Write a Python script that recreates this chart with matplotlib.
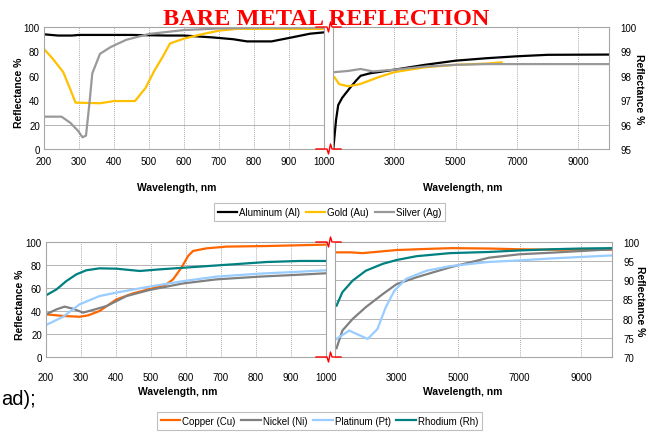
import matplotlib
matplotlib.use("Agg")
import matplotlib.pyplot as plt
from matplotlib.lines import Line2D

plt.rcParams['font.family'] = ['Liberation Sans', 'DejaVu Sans']

# --- top chart, visible range (nm) ---
al_wl_vis = [200, 240, 280, 300, 450, 550, 600, 680, 740, 780, 850, 900, 960, 1000]
al_r_vis = [94, 93, 93, 93.5, 93.5, 93, 93, 91.5, 90, 88.2, 88.2, 91, 94.5, 95.6]

au_wl_vis = [200, 225, 255, 275, 290, 360, 400, 460, 490, 515, 540, 560, 600, 650, 700, 750, 1000]
au_r_vis = [82, 74, 63, 49, 38, 37.5, 39.3, 39.3, 50, 64, 76, 86.5, 90.5, 94, 97, 98.5, 98.5]

ag_wl_vis = [200, 250, 275, 297, 310, 320, 330, 338, 360, 390, 435, 500, 600, 700, 800, 1000]
ag_r_vis = [26.5, 26.5, 21.5, 15, 9.6, 11, 38, 62, 78, 83.5, 89.5, 94.3, 97.5, 98.8, 99.4, 99.5]

# --- top chart, infrared range (nm) ---
al_wl_ir = [1010, 1100, 1170, 1300, 1550, 1750, 1900, 2200, 3000, 4000, 5000, 6000, 7000, 8000, 10000]
al_r_ir = [95.0, 96.2, 96.8, 97.1, 97.5, 97.8, 98.0, 98.1, 98.25, 98.45, 98.62, 98.72, 98.8, 98.86, 98.87]

au_wl_ir = [1050, 1200, 1500, 1880, 2500, 3000, 4000, 5000, 6000, 6500]
au_r_ir = [97.94, 97.66, 97.57, 97.66, 97.95, 98.15, 98.35, 98.45, 98.5, 98.55]

ag_wl_ir = [1050, 1500, 1900, 2300, 3000, 4000, 5000, 6000, 10000]
ag_r_ir = [98.15, 98.2, 98.28, 98.18, 98.25, 98.38, 98.45, 98.48, 98.48]

# --- bottom chart, visible range (nm) ---
cu_wl_vis = [200, 249, 296, 320, 353, 401, 449, 501, 544, 563, 587, 606, 620, 659, 716, 830, 1000]
cu_r_vis = [37.1, 35.7, 35, 36.2, 40, 50, 55.4, 59.4, 63.2, 67.5, 77.7, 87.8, 92.2, 94.5, 96, 96.5, 97.7]

ni_wl_vis = [200, 230, 253, 277, 306, 334, 373, 430, 496, 592, 687, 811, 906, 1000]
ni_r_vis = [37.1, 41.4, 43.8, 42, 38.6, 40.9, 44.3, 53, 58.3, 64, 67.5, 69.9, 71.3, 72.8]

pt_wl_vis = [200, 249, 296, 353, 401, 496, 592, 687, 811, 906, 1000]
pt_r_vis = [27.8, 35, 45.8, 53, 56, 61.2, 66, 69.9, 72.5, 73.9, 75.4]

rh_wl_vis = [200, 230, 258, 287, 315, 353, 401, 468, 525, 639, 735, 830, 925, 1000]
rh_r_vis = [53.6, 58.8, 66, 71.9, 75.4, 77.1, 76.8, 74.8, 76.2, 78.6, 80.6, 82.6, 83.5, 83.5]

# --- bottom chart, infrared range (nm) ---
cu_wl_ir = [1050, 1500, 1900, 3000, 4000, 4800, 6000, 7000, 8000, 10000]
cu_r_ir = [97.3, 97.3, 97.1, 97.9, 98.2, 98.4, 98.3, 98.1, 98.0, 98.0]

ni_wl_ir = [1050, 1240, 1570, 2000, 2550, 3000, 3650, 4740, 6000, 7000, 8000, 9000, 10000]
ni_r_ir = [72.3, 76.9, 79.9, 83, 86.4, 89, 90.8, 93.4, 95.9, 96.8, 97.2, 97.65, 98.1]

pt_wl_ir = [1050, 1460, 2060, 2380, 2650, 2930, 3310, 3970, 4740, 6000, 7000, 8000, 9000, 10000]
pt_r_ir = [74.7, 76.9, 74.7, 77.3, 83, 87.3, 90.4, 92.5, 93.7, 94.8, 95.2, 95.7, 96.1, 96.5]

rh_wl_ir = [1050, 1240, 1570, 2000, 2550, 3000, 3650, 4740, 6000, 7000, 8000, 9000, 10000]
rh_r_ir = [83.4, 86.9, 89.9, 92.5, 94.3, 95.3, 96.3, 97.1, 97.4, 97.8, 98.1, 98.3, 98.4]

vis_ticks = [200, 300, 400, 500, 600, 700, 800, 900, 1000]
ir_ticks = [1000, 3000, 5000, 7000, 9000]

W, H = 654, 435
fig = plt.figure(figsize=(W / 100, H / 100), dpi=100)


def px_axes(x0, y0, x1, y1):
    return fig.add_axes([x0 / W, 1 - y1 / H, (x1 - x0) / W, (y1 - y0) / H])


def style(ax, xlim, ylim, xticks, yticks, ygrid, right=False, xpad=5):
    ax.set_xlim(xlim)
    ax.set_ylim(ylim)
    ax.set_xticks(xticks)
    ax.set_yticks(yticks)
    for s in ax.spines.values():
        s.set_color('#a6a6a6')
        s.set_linewidth(0.8)
    ax.tick_params(length=0, labelsize=7)
    ax.tick_params(axis='x', pad=xpad)
    for x in xticks[1:-1] if not right else xticks[1:]:
        ax.axvline(x, color='#8c8c8c', lw=0.6, ls=(0, (1, 1.5)), zorder=0)
    for y in ygrid:
        ax.axhline(y, color='#b4b4b4', lw=0.7, zorder=0)
    if right:
        ax.yaxis.tick_right()
        ax.tick_params(axis='y', pad=8)
        ax.set_xticklabels([''] + [str(t) for t in xticks[1:]])
    else:
        ax.tick_params(axis='y', pad=3)


ax_tl = px_axes(44, 28, 324, 150)
ax_tr = px_axes(333, 28, 609, 150)
ax_bl = px_axes(46, 243, 326, 358)
ax_br = px_axes(335, 243, 612, 358)

c_al, c_au, c_ag = 'black', '#ffc000', '#999999'
c_cu, c_ni, c_pt, c_rh = '#ff6600', '#808080', '#99ccff', '#008080'
lw = 1.6

ax_tl.plot(al_wl_vis, al_r_vis, color=c_al, lw=lw, label='Aluminum (Al)')
ax_tl.plot(au_wl_vis, au_r_vis, color=c_au, lw=lw, label='Gold (Au)')
ax_tl.plot(ag_wl_vis, ag_r_vis, color=c_ag, lw=lw, label='Silver (Ag)')
ax_tr.plot(al_wl_ir, al_r_ir, color=c_al, lw=lw)
ax_tr.plot(au_wl_ir, au_r_ir, color=c_au, lw=lw)
ax_tr.plot(ag_wl_ir, ag_r_ir, color=c_ag, lw=lw)

ax_bl.plot(cu_wl_vis, cu_r_vis, color=c_cu, lw=lw, label='Copper (Cu)')
ax_bl.plot(ni_wl_vis, ni_r_vis, color=c_ni, lw=lw, label='Nickel (Ni)')
ax_bl.plot(pt_wl_vis, pt_r_vis, color=c_pt, lw=lw, label='Platinum (Pt)')
ax_bl.plot(rh_wl_vis, rh_r_vis, color=c_rh, lw=lw, label='Rhodium (Rh)')
ax_br.plot(cu_wl_ir, cu_r_ir, color=c_cu, lw=lw)
ax_br.plot(ni_wl_ir, ni_r_ir, color=c_ni, lw=lw)
ax_br.plot(pt_wl_ir, pt_r_ir, color=c_pt, lw=lw)
ax_br.plot(rh_wl_ir, rh_r_ir, color=c_rh, lw=lw)

style(ax_tl, (200, 1000), (0, 100), vis_ticks, [0, 20, 40, 60, 80, 100], [20], xpad=5)
style(ax_tr, (1000, 10000), (95, 100), ir_ticks, [95, 96, 97, 98, 99, 100], [96], right=True, xpad=5)
style(ax_bl, (200, 1000), (0, 100), vis_ticks, [0, 20, 40, 60, 80, 100], [20, 40, 60, 80], xpad=11)
style(ax_br, (1000, 10000), (70, 100), ir_ticks, [70, 75, 80, 85, 90, 95, 100],
      [75, 80, 85, 90, 95], right=True, xpad=11)

# axis labels
lab = dict(fontsize=7.5, fontweight='bold', ha='center', va='center')
fig.text(177 / W, 1 - 188 / H, 'Wavelength, nm', **lab)
fig.text(463 / W, 1 - 188 / H, 'Wavelength, nm', **lab)
fig.text(178 / W, 1 - 392 / H, 'Wavelength, nm', **lab)
fig.text(463 / W, 1 - 392 / H, 'Wavelength, nm', **lab)
fig.text(19 / W, 1 - 93 / H, 'Reflectance %', rotation=90, **lab)
fig.text(20 / W, 1 - 305 / H, 'Reflectance %', rotation=90, **lab)
fig.text(639 / W, 1 - 89 / H, 'Reflectance %', rotation=270, **lab)
fig.text(640 / W, 1 - 301 / H, 'Reflectance %', rotation=270, **lab)

# title
fig.text(326.5 / W, 1 - 25 / H, 'BARE METAL REFLECTION', color='red', fontsize=17.5,
         fontweight='bold', family='Liberation Serif', ha='center', va='baseline', zorder=10)


# axis break marks
def brk(y, x0=316, x1=341):
    xs = [x0, 327, 328.5, 330.5, 332, x1]
    ys = [y, y, y + 5, y - 5, y, y]
    fig.add_artist(Line2D([x / W for x in xs], [1 - v / H for v in ys], color='red', lw=1.0,
                          transform=fig.transFigure, zorder=20))


for yb in (28, 150, 243, 358):
    brk(yb)

leg_kw = dict(ncol=4, frameon=True, fancybox=False, fontsize=7.0, handlelength=2.0,
              handletextpad=0.2, columnspacing=0.6, borderpad=0.4, borderaxespad=0)
h1, l1 = ax_tl.get_legend_handles_labels()
leg1 = fig.legend(h1, l1, loc='center', bbox_to_anchor=(329.5 / W, 1 - 213 / H), **leg_kw)
leg1.get_frame().set_edgecolor('#b0b0b0')
leg1.get_frame().set_linewidth(0.8)

h2, l2 = ax_bl.get_legend_handles_labels()
leg2 = fig.legend(h2, l2, loc='upper center', bbox_to_anchor=(319.5 / W, 1 - 413 / H), **leg_kw)
leg2.get_frame().set_edgecolor('#b0b0b0')
leg2.get_frame().set_linewidth(0.8)

# stray text from the page behind the chart
fig.text(1 / W, 1 - 405 / H, 'ad);', fontsize=14.5, va='baseline')

fig.savefig('out.png', dpi=100)
